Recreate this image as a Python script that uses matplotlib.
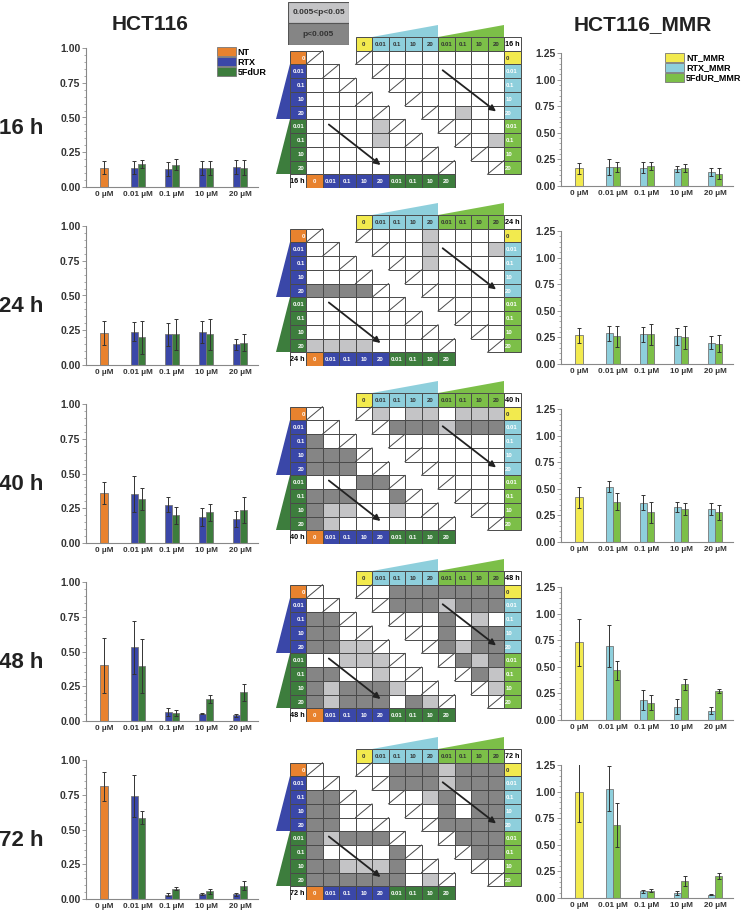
import numpy as np
import matplotlib.pyplot as plt
from matplotlib.patches import Rectangle, Polygon
from matplotlib.ticker import AutoMinorLocator

plt.rcParams['font.family'] = ['Liberation Sans', 'DejaVu Sans']
plt.rcParams['font.weight'] = 'bold'

times = ['16 h', '24 h', '40 h', '48 h', '72 h']
conc = ['0 μM', '0.01 μM', '0.1 μM', '10 μM', '20 μM']
mat_labels = ['0', '0.01', '0.1', '10', '20', '0.01', '0.1', '10', '20']

# HCT116: NT (0 uM) and RTX / 5FdUR at 0.01, 0.1, 10, 20 uM
nt = [0.14, 0.23, 0.36, 0.40, 0.81]
nt_err = [0.045, 0.085, 0.08, 0.20, 0.105]
rtx = [[0.14, 0.13, 0.137, 0.142],
       [0.24, 0.22, 0.24, 0.15],
       [0.35, 0.276, 0.186, 0.174],
       [0.53, 0.065, 0.053, 0.041],
       [0.743, 0.032, 0.034, 0.034]]
rtx_err = [[0.05, 0.05, 0.05, 0.05],
           [0.07, 0.08, 0.08, 0.04],
           [0.13, 0.053, 0.063, 0.057],
           [0.19, 0.027, 0.004, 0.01],
           [0.15, 0.008, 0.006, 0.01]]
fdur = [[0.164, 0.16, 0.137, 0.14],
        [0.2, 0.22, 0.22, 0.16],
        [0.314, 0.198, 0.22, 0.238],
        [0.396, 0.058, 0.16, 0.206],
        [0.583, 0.073, 0.056, 0.097]]
fdur_err = [[0.03, 0.04, 0.05, 0.055],
            [0.12, 0.11, 0.11, 0.06],
            [0.08, 0.058, 0.06, 0.093],
            [0.195, 0.02, 0.03, 0.06],
            [0.047, 0.01, 0.017, 0.03]]

# HCT116_MMR
nt_m = [0.166, 0.27, 0.42, 0.732, 1.0]
nt_m_err = [0.05, 0.07, 0.1, 0.22, 0.29]
rtx_m = [[0.182, 0.172, 0.16, 0.13],
         [0.29, 0.28, 0.26, 0.2],
         [0.52, 0.37, 0.33, 0.31],
         [0.697, 0.185, 0.126, 0.088],
         [1.027, 0.064, 0.048, 0.032]]
rtx_m_err = [[0.075, 0.05, 0.03, 0.04],
             [0.07, 0.07, 0.08, 0.06],
             [0.05, 0.07, 0.05, 0.06],
             [0.195, 0.094, 0.072, 0.03],
             [0.21, 0.015, 0.02, 0.003]]
fdur_m = [[0.18, 0.19, 0.167, 0.117],
          [0.26, 0.28, 0.25, 0.19],
          [0.38, 0.28, 0.31, 0.28],
          [0.468, 0.163, 0.336, 0.27],
          [0.686, 0.067, 0.16, 0.204]]
fdur_m_err = [[0.05, 0.035, 0.04, 0.055],
              [0.1, 0.1, 0.11, 0.08],
              [0.08, 0.1, 0.06, 0.07],
              [0.088, 0.07, 0.05, 0.02],
              [0.207, 0.015, 0.045, 0.03]]

# significance matrices: '.' n.s., 'l' 0.005<p<0.05, 'd' p<0.005
# left (HCT116): row i lists columns 0..i-1
sig_left = [
    ['', '.', '..', '...', '....', '....l', '....l.', '.......', '........'],
    ['', '.', '..', '...', 'dddd', '.....', '......', '.......', 'llll....'],
    ['', '.', 'd.', 'ddd', 'ddd.', '...dd', 'ddd..d', 'dll..l.', 'dl......'],
    ['', '.', 'dd', 'dd.', 'ddll', '..lll', 'dd..l.', 'dldddl.', 'dlddd.dl'],
    ['', '.', 'dd', 'dd.', 'dd..', 'dlddd', 'd....d', 'ddllld.', 'dddddd.l'],
]
# right (HCT116_MMR): row i lists columns i+1..8
sig_right = [
    ['........', '.......', '......', '.....', '.l..', '...', '.l', '.', ''],
    ['...l....', '..l...l', '.l....', '.....', '....', '...', '..', '.', ''],
    ['l.ll.lll', 'dddlddd', '......', '.....', '....', '...', '..', '.', ''],
    ['.ddddddd', 'dddlddd', '..d.l.', '.d.dd', 'dldd', 'dld', 'dl', 'l', ''],
    ['.dddlddd', 'dddlddd', '.ld.dd', '.d.dd', 'dddd', 'ddd', 'dd', '.', ''],
]

c_nt, c_rtx, c_fd = '#E8822E', '#3A47A8', '#3D7D3D'
c_ntm, c_rtxm, c_fdm = '#F2EA4E', '#8ECFDC', '#7CBF48'
shade = {'.': 'white', 'l': '#C4C4C6', 'd': '#858585'}
edge = '#4a4a4a'

W, H = 741, 913
fig = plt.figure(figsize=(W / 100, H / 100), dpi=100)


def px_axes(x0, y0, x1, y1):
    return fig.add_axes([x0 / W, 1 - y1 / H, (x1 - x0) / W, (y1 - y0) / H])


def bar_panel(ax, k, single, single_err, a, a_err, b, b_err, cols, labels, ymax, show_leg):
    x = np.arange(1, len(conc))
    ekw = dict(ecolor='#333333', elinewidth=0.7, capsize=1.5, capthick=0.7)
    w = 0.21
    h0 = ax.bar(0, single[k], w, yerr=single_err[k], color=cols[0], edgecolor='#777777',
                lw=0.6, error_kw=ekw)
    h1 = ax.bar(x - w / 2, a[k], w, yerr=a_err[k], color=cols[1], edgecolor='#777777',
                lw=0.6, error_kw=ekw)
    h2 = ax.bar(x + w / 2, b[k], w, yerr=b_err[k], color=cols[2], edgecolor='#777777',
                lw=0.6, error_kw=ekw)
    ax.set_xlim(-0.53, 4.53)
    ax.set_ylim(0, ymax)
    ax.set_yticks(np.arange(0, ymax + 0.01, 0.25))
    ax.yaxis.set_minor_locator(AutoMinorLocator(5))
    ax.set_xticks(np.arange(len(conc)))
    ax.set_xticklabels(conc, fontsize=5.8, fontweight='bold', color='#333333')
    ax.tick_params(axis='x', length=0, pad=3)
    ax.tick_params(axis='y', which='major', length=3, width=0.6, labelsize=7.5,
                   labelcolor='#333333', color='#888888', pad=1)
    ax.tick_params(axis='y', which='minor', length=1.5, width=0.5, color='#888888')
    for lab in ax.get_yticklabels():
        lab.set_fontweight('bold')
    for s in ['top', 'right']:
        ax.spines[s].set_visible(False)
    for s in ['left', 'bottom']:
        ax.spines[s].set_color('#888888')
        ax.spines[s].set_linewidth(0.8)
    ax.patch.set_alpha(0)
    if show_leg:
        ax.legend([h0, h1, h2], labels, loc='upper right', frameon=False,
                  bbox_to_anchor=(1.07, 1.03), borderaxespad=0,
                  prop={'size': 6.5, 'weight': 'bold'}, handlelength=2.1,
                  handleheight=1.15, labelspacing=0.05, handletextpad=0.2)


def cell(ax, x, y, fc, txt='', tc='white', ha='center', fs=4.3):
    ax.add_patch(Rectangle((x, y), 1, 1, fc=fc, ec=edge, lw=0.7))
    if txt:
        tx = {'center': x + 0.5, 'right': x + 0.92, 'left': x + 0.08}[ha]
        ax.text(tx, y + 0.55, txt, ha=ha, va='center', fontsize=fs,
                fontweight='bold', color=tc)


def diag(ax, x, y):
    ax.add_patch(Rectangle((x, y), 1, 1, fc='white', ec=edge, lw=0.7))
    ax.plot([x, x + 1], [y + 1, y], color=edge, lw=0.7)


def matrix_panel(ax, k):
    n = len(mat_labels)
    lcol = [c_nt] + [c_rtx] * 4 + [c_fd] * 4
    rcol = [c_ntm] + [c_rtxm] * 4 + [c_fdm] * 4
    # wedges
    ax.add_patch(Polygon([(-1, 1), (-1, 5), (-1.8, 5)], closed=True, fc=c_rtx, ec='none'))
    ax.add_patch(Polygon([(-1, 5), (-1, 9), (-1.8, 9)], closed=True, fc=c_fd, ec='none'))
    ax.add_patch(Polygon([(4, -1), (8, -1), (8, -1.9)], closed=True, fc=c_rtxm, ec='none'))
    ax.add_patch(Polygon([(8, -1), (12, -1), (12, -1.9)], closed=True, fc=c_fdm, ec='none'))
    # left matrix (lower triangle)
    for i in range(n):
        cell(ax, -1, i, lcol[i], mat_labels[i], ha='right')
        cell(ax, i, 9, lcol[i], mat_labels[i])
        for j in range(i):
            cell(ax, j, i, shade[sig_left[k][i][j]])
        diag(ax, i, i)
    cell(ax, -1, 9, 'white', times[k], tc='black', fs=5.2)
    # right matrix (upper triangle), shifted 3 columns right
    for i in range(n):
        tc = '#333333' if i == 0 else 'white'
        cell(ax, 12, i, rcol[i], mat_labels[i], tc=tc, ha='left')
        cell(ax, 3 + i, -1, rcol[i], mat_labels[i], tc='#333333')
        diag(ax, 3 + i, i)
        for jj, ch in enumerate(sig_right[k][i]):
            cell(ax, 3 + i + 1 + jj, i, shade[ch])
    cell(ax, 12, -1, 'white', times[k], tc='black', fs=5.2)
    # arrows
    ax.annotate('', xy=(4.65, 8.45), xytext=(1.25, 5.25),
                arrowprops=dict(arrowstyle='-|>', color='#222222', lw=1.3, mutation_scale=9))
    ax.annotate('', xy=(11.65, 4.55), xytext=(8.15, 1.3),
                arrowprops=dict(arrowstyle='-|>', color='#222222', lw=1.3, mutation_scale=9))
    ax.set_xlim(-2, 13.5)
    ax.set_ylim(10, -2)
    ax.axis('off')


step = 178
cw, ch = 16.5, 13.73
for k in range(len(times)):
    dy = k * step
    axl = px_axes(86, 48 + dy, 258, 187 + dy)
    bar_panel(axl, k, nt, nt_err, rtx, rtx_err, fdur, fdur_err,
              (c_nt, c_rtx, c_fd), ['NT', 'RTX', '5FdUR'], 1.0, k == 0)
    axr = px_axes(561, 53 + dy, 733, 186 + dy)
    bar_panel(axr, k, nt_m, nt_m_err, rtx_m, rtx_m_err, fdur_m, fdur_m_err,
              (c_ntm, c_rtxm, c_fdm), ['NT_MMR', 'RTX_MMR', '5FdUR_MMR'], 1.25, k == 0)
    x0, y0 = 306 - 2 * cw, 50.7 + dy - 2 * ch
    axm = px_axes(x0, y0, x0 + 15.5 * cw, y0 + 12 * ch)
    matrix_panel(axm, k)
    fig.text(21 / W, 1 - (128 + dy) / H, times[k], ha='center', va='center',
             fontsize=16, fontweight='bold', color='#222222')

# p-value key
axk = px_axes(288, 2, 349, 45)
axk.add_patch(Rectangle((0, 0.5), 1, 0.5, fc='#C4C4C6', ec='#555555', lw=0.8))
axk.add_patch(Rectangle((0, 0), 1, 0.5, fc='#858585', ec='#555555', lw=0.8))
axk.text(0.5, 0.75, '0.005<p<0.05', ha='center', va='center', fontsize=6,
         fontweight='bold', color='#333333')
axk.text(0.5, 0.25, 'p<0.005', ha='center', va='center', fontsize=6,
         fontweight='bold', color='#333333')
axk.set_xlim(0, 1)
axk.set_ylim(0, 1)
axk.axis('off')

fig.text(150 / W, 1 - 25 / H, 'HCT116', ha='center', va='center', fontsize=15,
         fontweight='bold', color='#222222')
fig.text(643 / W, 1 - 25 / H, 'HCT116_MMR', ha='center', va='center', fontsize=15,
         fontweight='bold', color='#222222')

fig.savefig('out.png', dpi=100)
